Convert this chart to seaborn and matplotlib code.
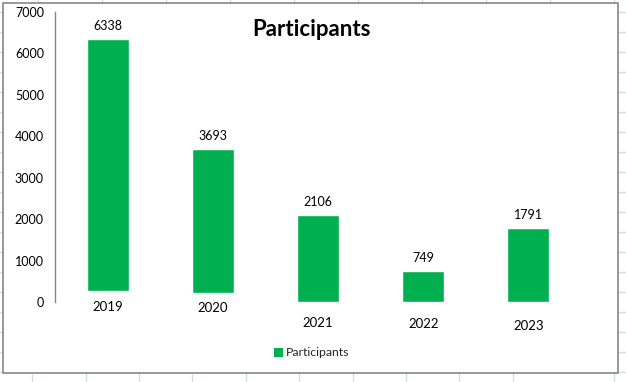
import matplotlib
matplotlib.use("Agg")
import matplotlib.pyplot as plt
from matplotlib.patches import Rectangle
from matplotlib.lines import Line2D
import seaborn as sns
import pandas as pd

years = ["2019", "2020", "2021", "2022", "2023"]
participants = [6338, 3693, 2106, 749, 1791]
series_name = "Participants"
yticks = [0, 1000, 2000, 3000, 4000, 5000, 6000, 7000]

GREEN = "#00B050"
FONT = "Lato"

sns.set_theme(style="white")
plt.rcParams["font.family"] = [FONT, "DejaVu Sans"]

W, H = 626, 382
fig = plt.figure(figsize=(W / 100, H / 100), dpi=100)
fig.patch.set_facecolor("white")

# spreadsheet gridlines outside the chart area
gcol = "#D4DCE8"
for x in [38, 102, 166, 230, 294, 358, 422, 486, 550, 614]:
    fig.add_artist(Line2D([x / W, x / W], [1 - 3 / H, 1], color=gcol, lw=1, zorder=-2))
for x in [32, 86, 139, 192, 246, 299, 353, 406, 459, 513, 614]:
    fig.add_artist(Line2D([x / W, x / W], [0, 1 - 373 / H], color=gcol, lw=1, zorder=-2))
for y in range(12, 382, 20):
    fig.add_artist(Line2D([0, 3 / W], [1 - y / H, 1 - y / H], color=gcol, lw=1, zorder=-2))
    fig.add_artist(Line2D([618 / W, 1], [1 - y / H, 1 - y / H], color=gcol, lw=1, zorder=-2))

# chart border
fig.add_artist(Rectangle((3 / W, 1 - 373 / H), (618 - 3) / W, (373 - 3) / H,
                         fill=True, facecolor="white", edgecolor="#878787",
                         lw=1.2, transform=fig.transFigure, zorder=-1))

left, right, top, bottom = 55, 581, 12, 302
ax = fig.add_axes([left / W, 1 - bottom / H, (right - left) / W, (bottom - top) / H])
ax.set_facecolor("none")
ax.set_zorder(1)

df = pd.DataFrame({"Year": years, series_name: participants})
sns.barplot(data=df, x="Year", y=series_name, color=GREEN, width=0.4,
            saturation=1, ax=ax)

# the first two bars start slightly above the baseline in the reference
bar_start_px = [11, 9, 0, 0, 0]
px_per_unit = (bottom - top) / 7000
for p, s in zip(ax.containers[0], bar_start_px):
    y0 = s / px_per_unit
    top_val = p.get_y() + p.get_height()
    p.set_y(y0)
    p.set_height(top_val - y0)

ax.set_ylim(0, 7000)
ax.set_xlim(-0.5, len(years) - 0.5)
ax.set_yticks(yticks)
ax.set_yticklabels([str(t) for t in yticks], fontsize=9, color="#000000")
ax.tick_params(axis="y", length=0, pad=8)
ax.set_xticks(range(len(years)))
ax.set_xticklabels([])
ax.tick_params(axis="x", length=0)
ax.set_xlabel("")
ax.set_ylabel("")
for s in ["top", "right", "bottom"]:
    ax.spines[s].set_visible(False)
ax.spines["left"].set_color("#868686")
ax.spines["left"].set_linewidth(1.0)

# category labels (offsets as in reference)
label_drop_px = [5, 6, 21, 22, 24]
for i, (yr, d) in enumerate(zip(years, label_drop_px)):
    ax.annotate(yr, xy=(i, 0), xycoords=("data", "axes fraction"),
                xytext=(0, -d * 0.72), textcoords="offset points",
                ha="center", va="center", fontsize=9.5, color="#000000",
                annotation_clip=False)

ax.bar_label(ax.containers[0], labels=[str(v) for v in participants],
             padding=5, fontsize=9, color="#000000")

fig.text(311 / W, 1 - 29 / H, "Participants", ha="center", va="center",
         fontsize=16, fontweight="bold", color="#000000")

handle = Rectangle((0, 0), 1, 1, facecolor=GREEN, edgecolor="none")
fig.legend([handle], [series_name], loc="center", bbox_to_anchor=(312 / W, 1 - 353 / H),
           frameon=False, fontsize=8.8, handlelength=0.7, handleheight=0.7,
           handletextpad=0.3, borderaxespad=0)

fig.savefig("out.png", dpi=100)
